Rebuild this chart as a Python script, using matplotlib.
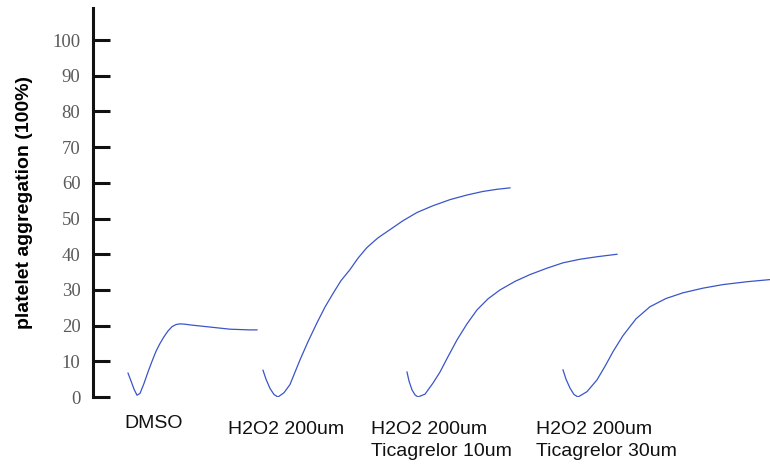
import matplotlib.pyplot as plt

# aggregation traces (x: time position on the shared axis, y: % aggregation)
dmso_x = [128, 131, 134, 137, 140, 144, 148, 152, 156, 160, 164, 168, 172, 176, 180, 185, 190,
          200, 210, 220, 230, 240, 250, 257]
dmso_y = [6.7, 4.5, 2.2, 0.5, 1.0, 3.8, 7.0, 10.0, 12.8, 15.0, 16.9, 18.5, 19.7, 20.3, 20.5, 20.4,
          20.2, 19.9, 19.6, 19.3, 19.0, 18.9, 18.8, 18.8]

h2o2_x = [263, 266, 270, 274, 278, 284, 290, 300, 308, 317, 325, 333, 341, 350, 358, 367, 378,
          390, 403, 417, 433, 450, 467, 483, 497, 510]
h2o2_y = [7.5, 5.0, 2.4, 0.7, 0.0, 1.2, 3.5, 10.4, 15.5, 20.8, 25.2, 29.0, 32.6, 35.7, 38.9, 41.9,
          44.6, 46.9, 49.4, 51.7, 53.6, 55.3, 56.6, 57.6, 58.2, 58.6]

tica10_x = [407, 409, 412, 415, 418, 425, 433, 440, 448, 457, 467, 477, 488, 500, 515, 530, 547,
            563, 580, 597, 617]
tica10_y = [7.0, 4.5, 2.0, 0.6, 0.0, 0.8, 3.9, 7.0, 11.3, 16.0, 20.5, 24.4, 27.5, 30.0, 32.4, 34.3,
            36.1, 37.6, 38.6, 39.3, 40.0]

tica30_x = [563, 566, 570, 574, 578, 587, 597, 605, 613, 623, 636, 650, 666, 683, 703, 723, 747, 770]
tica30_y = [7.6, 5.0, 2.5, 0.7, 0.0, 1.5, 4.8, 8.6, 12.7, 17.2, 21.9, 25.3, 27.6, 29.2, 30.5, 31.5,
            32.3, 32.9]

labels = ['DMSO', 'H2O2 200um', 'H2O2 200um\nTicagrelor 10um', 'H2O2 200um\nTicagrelor 30um']
label_x = [124, 228, 371, 536]
label_y = [-7.3, -6.6, -6.6, -6.6]
yticks = list(range(0, 101, 10))

fig = plt.figure(figsize=(7.7, 4.68), dpi=100)
ax = fig.add_axes([93 / 770, 71 / 468, 1 - 93 / 770, 389 / 468])

line_color = '#3a55c8'
for xs, ys in [(dmso_x, dmso_y), (h2o2_x, h2o2_y), (tica10_x, tica10_y), (tica30_x, tica30_y)]:
    ax.plot(xs, ys, color=line_color, lw=0.9)

ax.set_xlim(93, 770)
ax.set_ylim(0, 109)

for s in ['top', 'right', 'bottom']:
    ax.spines[s].set_visible(False)
ax.spines['left'].set_linewidth(2.2)
ax.spines['left'].set_color('#111111')

ax.set_xticks([])
ax.set_yticks(yticks)
ax.set_yticklabels([str(t) for t in yticks], family='Liberation Serif', fontsize=13.5, color='#5a5a5a')
ax.tick_params(axis='y', direction='in', length=12, width=2.2, color='#111111', pad=9)

ax.set_ylabel('platelet aggregation (100%)', fontsize=14, fontweight='bold',
              family='Liberation Sans', labelpad=14)

# condition labels under each trace
for lx, ly, txt in zip(label_x, label_y, labels):
    ax.text(lx, ly, txt, fontsize=14, family='Liberation Sans', color='#111111',
            ha='left', va='center' if txt == 'DMSO' else 'top', linespacing=1.45,
            clip_on=False)

fig.savefig('out.png', dpi=100)
